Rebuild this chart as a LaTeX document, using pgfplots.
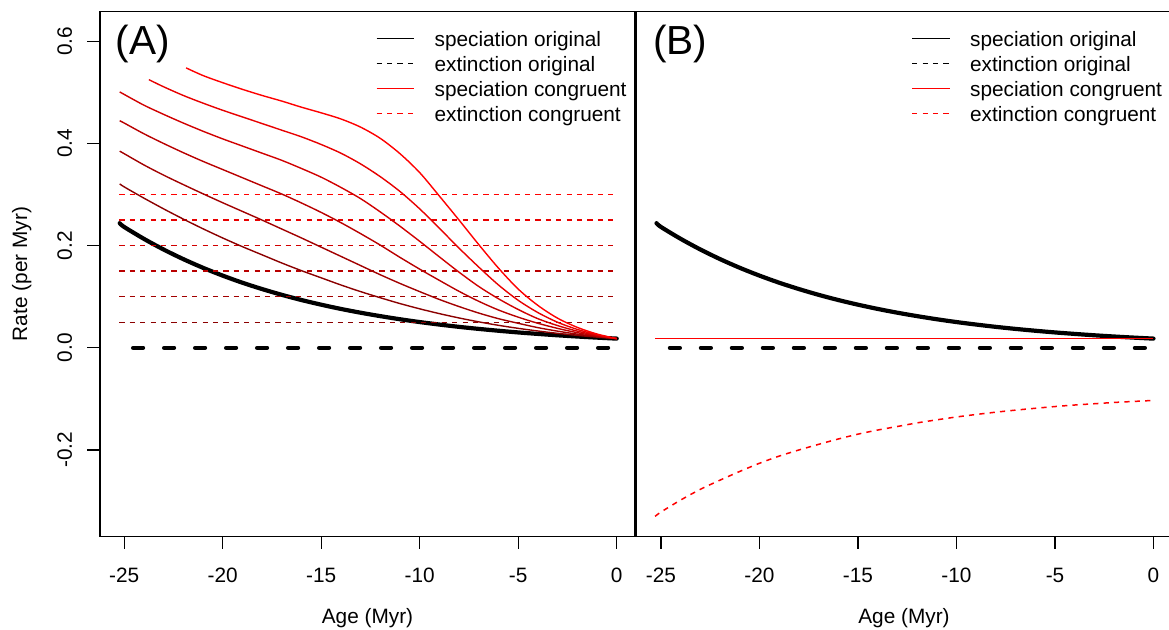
\documentclass[border=0pt]{standalone}
\usepackage{pgfplots}
\pgfplotsset{compat=1.18}
\usepackage{fontspec}
\setmainfont{Liberation Sans}
\definecolor{c1}{HTML}{8B0000}
\definecolor{c2}{HTML}{A20000}
\definecolor{c3}{HTML}{B90000}
\definecolor{c4}{HTML}{D10000}
\definecolor{c5}{HTML}{E80000}
\definecolor{c6}{HTML}{FF0000}
\newcommand{\lfont}{\fontsize{10.4}{12.5}\selectfont}
\pgfplotsset{
  panel/.style={
    scale only axis, height=262.3pt,
    ymin=-0.369, ymax=0.658,
    no markers,
    axis line style={line width=0.65pt},
    tick style={line width=0.65pt, black},
    tick align=outside, major tick length=6.25pt,
    xtick={-25,-20,-15,-10,-5,0}, xticklabels={-25,-20,-15,-10,-5,0},
    xtick pos=bottom,
    xticklabel style={font=\lfont, anchor=north, inner sep=0pt},
    xticklabel shift=9.25pt,
    xlabel={Age (Myr)},
    xlabel style={font=\lfont, at={(axis description cs:0.5,-0.1658)}, anchor=base, inner sep=0pt},
    legend cell align=left,
    legend style={draw=none, fill=none, inner sep=0pt, row sep=2.7pt, font=\lfont,
      nodes={inner sep=0pt, text height=7.6pt, text depth=2.2pt}, anchor=north west},
    legend image code/.code={\draw[##1] (0pt,1.3pt) -- (18.75pt,1.3pt); \path (28.6pt,0pt);},
  },
  thickblack/.style={black, line width=2.1pt, line cap=round, line join=round},
  thickdash/.style={black, line width=2.1pt, line cap=round, dash pattern=on 5pt off 10.5pt},
  thindash/.style={line width=0.75pt, dash pattern=on 2.6pt off 2.6pt},
  thinline/.style={line width=0.7pt, line join=round},
}
\begin{document}
\begin{tikzpicture}
\useasboundingbox (-50pt,-46.85pt) rectangle (534.5pt,268.15pt);
% ---------------- Panel A ----------------
\begin{axis}[panel, width=267.5pt, xmin=-26.23, xmax=0.93,
  ytick={-0.2,0,0.2,0.4,0.6}, yticklabels={-0.2,0.0,0.2,0.4,0.6},
  ytick pos=left,
  yticklabel style={font=\lfont, rotate=90, anchor=base, inner sep=0pt},
  yticklabel shift=7.75pt,
  ylabel={Rate (per Myr)},
  ylabel style={font=\lfont, at={(axis description cs:-0.1364,0.5)}, anchor=base, inner sep=0pt},
  legend style={at={(rel axis cs:0.515,0.9636)}}]
\addlegendimage{black, line width=0.7pt}
\addlegendentry{speciation original}
\addlegendimage{black, thindash}
\addlegendentry{extinction original}
\addlegendimage{c6, line width=0.7pt}
\addlegendentry{speciation congruent}
\addlegendimage{c6, thindash}
\addlegendentry{extinction congruent}
% speciation original
\addplot[thickblack, smooth, forget plot] coordinates {(-25.23,0.244) (-25,0.2365) (-24,0.2133) (-23,0.1924) (-22,0.1736) (-21,0.1566) (-20,0.1413) (-19,0.1274) (-18,0.115) (-17,0.1037) (-16,0.0935) (-15,0.0844) (-14,0.0761) (-13,0.0687) (-12,0.062) (-11,0.0559) (-10,0.0504) (-9,0.0455) (-8,0.041) (-7,0.037) (-6,0.0334) (-5,0.0301) (-4,0.0272) (-3,0.0245) (-2,0.0221) (-1,0.01995) (0,0.018)};
% extinction original
\addplot[thickdash, forget plot] coordinates {(-24.55,0) (0,0)};
% extinction congruent (constant)
\addplot[c1, thindash, forget plot] coordinates {(-25.25,0.05) (0,0.05)};
\addplot[c2, thindash, forget plot] coordinates {(-25.25,0.10) (0,0.10)};
\addplot[c3, thindash, forget plot] coordinates {(-25.25,0.15) (0,0.15)};
\addplot[c4, thindash, forget plot] coordinates {(-25.25,0.20) (0,0.20)};
\addplot[c5, thindash, forget plot] coordinates {(-25.25,0.25) (0,0.25)};
\addplot[c6, thindash, forget plot] coordinates {(-25.25,0.30) (0,0.30)};
% speciation congruent
\addplot[c1, thinline, smooth, forget plot] coordinates {(-25.23,0.321) (-25,0.315) (-24,0.293) (-23,0.272) (-22,0.252) (-21,0.233) (-20,0.215) (-19,0.198) (-18,0.182) (-17,0.166) (-16,0.151) (-15,0.137) (-14,0.123) (-13,0.110) (-12,0.098) (-11,0.0866) (-10,0.0763) (-9,0.0669) (-8,0.0584) (-7,0.0508) (-6,0.044) (-5,0.0381) (-4,0.0329) (-3,0.0283) (-2,0.0243) (-1,0.0209) (0,0.018)};
\addplot[c2, thinline, smooth, forget plot] coordinates {(-25.23,0.385) (-25,0.380) (-24,0.358) (-23,0.338) (-22,0.3195) (-21,0.3015) (-20,0.284) (-19,0.267) (-18,0.250) (-17,0.2325) (-16,0.215) (-15,0.197) (-14,0.179) (-13,0.161) (-12,0.143) (-11,0.126) (-10,0.110) (-9,0.0946) (-8,0.0807) (-7,0.068) (-6,0.057) (-5,0.048) (-4,0.0395) (-3,0.0326) (-2,0.0268) (-1,0.022) (0,0.018)};
\addplot[c3, thinline, smooth, forget plot] coordinates {(-25.23,0.4445) (-25,0.440) (-24,0.419) (-23,0.400) (-22,0.382) (-21,0.365) (-20,0.349) (-19,0.333) (-18,0.317) (-17,0.301) (-16,0.2835) (-15,0.265) (-14,0.245) (-13,0.2235) (-12,0.201) (-11,0.177) (-10,0.154) (-9,0.132) (-8,0.1105) (-7,0.091) (-6,0.074) (-5,0.060) (-4,0.048) (-3,0.038) (-2,0.0296) (-1,0.0231) (0,0.018)};
\addplot[c4, thinline, smooth, forget plot] coordinates {(-25.23,0.501) (-25,0.496) (-24,0.475) (-23,0.457) (-22,0.440) (-21,0.424) (-20,0.409) (-19,0.395) (-18,0.381) (-17,0.367) (-16,0.351) (-15,0.334) (-14,0.314) (-13,0.292) (-12,0.266) (-11,0.238) (-10,0.2085) (-9,0.178) (-8,0.148) (-7,0.120) (-6,0.096) (-5,0.075) (-4,0.057) (-3,0.0435) (-2,0.0326) (-1,0.0243) (0,0.018)};
\addplot[c5, thinline, smooth, forget plot] coordinates {(-23.75,0.525) (-23,0.511) (-22,0.494) (-21,0.479) (-20,0.465) (-19,0.452) (-18,0.439) (-17,0.426) (-16,0.413) (-15,0.398) (-14,0.381) (-13,0.360) (-12,0.335) (-11,0.306) (-10,0.272) (-9,0.234) (-8,0.195) (-7,0.158) (-6,0.123) (-5,0.093) (-4,0.069) (-3,0.050) (-2,0.036) (-1,0.0255) (0,0.018)};
\addplot[c6, thinline, smooth, forget plot] coordinates {(-21.86,0.548) (-21,0.533) (-20,0.519) (-19,0.506) (-18,0.494) (-17,0.483) (-16,0.471) (-15,0.460) (-14,0.448) (-13,0.432) (-12,0.410) (-11,0.380) (-10,0.343) (-9,0.297) (-8,0.250) (-7,0.202) (-6,0.156) (-5,0.115) (-4,0.083) (-3,0.058) (-2,0.040) (-1,0.027) (0,0.018)};
\node[anchor=west, inner sep=0pt, font=\fontsize{20.3}{24}\selectfont] at (rel axis cs:0.029,0.938) {(A)};
\end{axis}
% ---------------- Panel B ----------------
\begin{axis}[panel, at={(268pt,0pt)}, anchor=south west, width=268pt, xmin=-26.27, xmax=0.94,
  ytick=\empty,
  legend style={at={(rel axis cs:0.5131,0.9636)}}]
\addlegendimage{black, line width=0.7pt}
\addlegendentry{speciation original}
\addlegendimage{black, thindash}
\addlegendentry{extinction original}
\addlegendimage{c6, line width=0.7pt}
\addlegendentry{speciation congruent}
\addlegendimage{c6, thindash}
\addlegendentry{extinction congruent}
\addplot[thickblack, smooth, forget plot] coordinates {(-25.23,0.244) (-25,0.2365) (-24,0.2133) (-23,0.1924) (-22,0.1736) (-21,0.1566) (-20,0.1413) (-19,0.1274) (-18,0.115) (-17,0.1037) (-16,0.0935) (-15,0.0844) (-14,0.0761) (-13,0.0687) (-12,0.062) (-11,0.0559) (-10,0.0504) (-9,0.0455) (-8,0.041) (-7,0.037) (-6,0.0334) (-5,0.0301) (-4,0.0272) (-3,0.0245) (-2,0.0221) (-1,0.01995) (0,0.018)};
\addplot[thickdash, forget plot] coordinates {(-24.55,0) (0,0)};
\addplot[c6, thinline, forget plot] coordinates {(-25.3,0.018) (0,0.018)};
\addplot[c6, thindash, smooth, forget plot] coordinates {(-25.3,-0.330) (-25,-0.3215) (-24,-0.298) (-23,-0.277) (-22,-0.259) (-21,-0.242) (-20,-0.226) (-19,-0.212) (-18,-0.200) (-17,-0.189) (-16,-0.1785) (-15,-0.169) (-14,-0.161) (-13,-0.154) (-12,-0.147) (-11,-0.141) (-10,-0.1354) (-9,-0.1305) (-8,-0.126) (-7,-0.122) (-6,-0.1184) (-5,-0.115) (-4,-0.112) (-3,-0.1095) (-2,-0.107) (-1,-0.105) (0,-0.103)};
\node[anchor=west, inner sep=0pt, font=\fontsize{20.3}{24}\selectfont] at (rel axis cs:0.031,0.938) {(B)};
\end{axis}
\end{tikzpicture}
\end{document}
